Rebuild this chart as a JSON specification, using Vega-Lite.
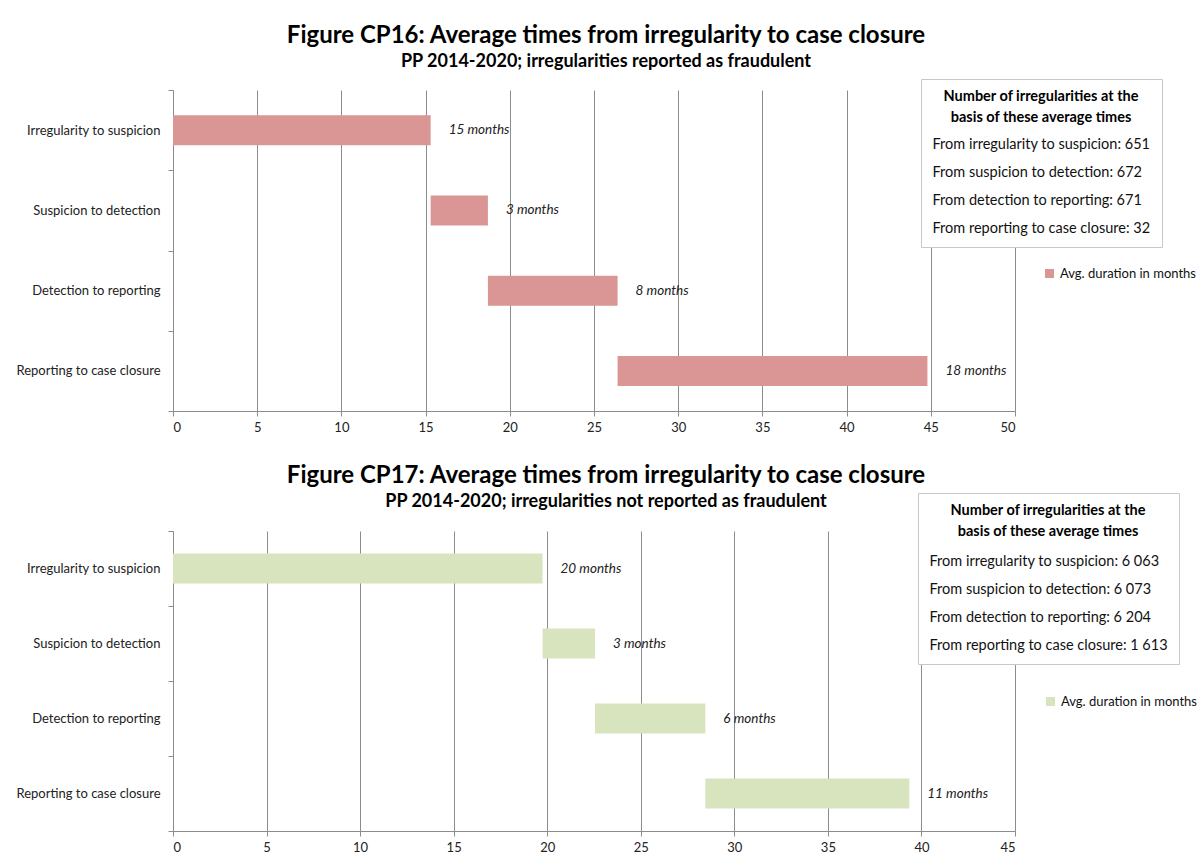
{
  "$schema": "https://vega.github.io/schema/vega-lite/v6.json",
  "padding": {"left": 5, "top": 23, "right": 5, "bottom": 0},
  "background": "white",
  "config": {
    "font": "Lato",
    "view": {"stroke": null},
    "axis": {"labelFont": "Lato", "labelFontSize": 13, "labelColor": "#222", "domainColor": "#8c8c8c", "tickColor": "#8c8c8c", "gridColor": "#8c8c8c", "gridOpacity": 1},
    "title": {"font": "Lato", "fontSize": 24, "fontWeight": "bold", "color": "black", "subtitleFont": "Lato", "subtitleFontSize": 18, "subtitleFontWeight": "bold", "subtitleColor": "black", "subtitlePadding": 5, "anchor": "middle", "dx": 12},
    "legend": {"labelFont": "Lato", "titleFont": "Lato", "labelColor": "#111", "titleColor": "black"},
    "concat": {"spacing": 30}
  },
  "resolve": {"scale": {"color": "independent", "shape": "independent", "x": "independent", "y": "independent"}},
  "vconcat": [
    {
      "title": {"text": "Figure CP16: Average times from  irregularity to case closure", "subtitle": "PP 2014-2020; irregularities reported as fraudulent", "offset": 8},
      "width": 842,
      "height": 321,
      "data": {"values": [
        {"stage": "Irregularity to suspicion", "start": 0, "end": 15.3, "label": "15 months", "count": "From irregularity to suspicion: 651"},
        {"stage": "Suspicion to detection", "start": 15.3, "end": 18.7, "label": "3 months", "count": "From suspicion to detection: 672"},
        {"stage": "Detection to reporting", "start": 18.7, "end": 26.4, "label": "8 months", "count": "From detection to reporting: 671"},
        {"stage": "Reporting to case closure", "start": 26.4, "end": 44.8, "label": "18 months", "count": "From reporting to case closure: 32"}
      ]},
      "encoding": {
        "y": {"field": "stage", "type": "nominal", "sort": null, "title": null, "scale": {"paddingInner": 0, "paddingOuter": 0}, "axis": {"tickBand": "extent", "tickSize": 5, "labelPadding": 8, "minExtent": 168, "maxExtent": 168, "grid": false}}
      },
      "layer": [
        {
          "mark": {"type": "bar", "size": 30},
          "encoding": {
            "x": {"field": "start", "type": "quantitative", "title": null, "scale": {"domain": [0, 50], "nice": false}, "axis": {"values": [0, 5, 10, 15, 20, 25, 30, 35, 40, 45, 50], "grid": true, "tickSize": 5, "labelPadding": 5}},
            "x2": {"field": "end"},
            "color": {"datum": "Avg. duration in months", "scale": {"range": ["#D99694"]}, "legend": {"orient": "none", "legendX": 870, "legendY": 177, "title": null, "symbolType": "square", "symbolSize": 81, "symbolStrokeWidth": 0, "labelFontSize": 13, "padding": 0, "labelOffset": 4}}
          }
        },
        {
          "mark": {"type": "text", "align": "left", "dx": 18, "fontStyle": "italic", "fontSize": 13.5, "color": "#222"},
          "encoding": {"x": {"field": "end", "type": "quantitative"}, "text": {"field": "label"}}
        },
        {
          "mark": {"type": "point", "opacity": 0, "size": 1},
          "encoding": {
            "x": {"field": "end", "type": "quantitative"},
            "shape": {"field": "count", "type": "nominal", "sort": null, "legend": {"orient": "none", "legendX": 748, "legendY": -11, "title": ["Number of irregularities at the", "basis of these average times"], "titleFontSize": 14.5, "titleFontWeight": "bold", "titleAnchor": "middle", "titleAlign": "center", "titleLineHeight": 21, "titlePadding": 12, "titleLimit": 400, "labelFontSize": 14.5, "symbolSize": 1, "symbolOpacity": 0, "symbolStrokeWidth": 0, "labelOffset": -14, "rowPadding": 13, "padding": 11, "strokeColor": "#c8c8c8", "fillColor": "white", "labelLimit": 400}}
          }
        }
      ]
    },
    {
      "title": {"text": "Figure CP17: Average times from  irregularity to case closure", "subtitle": "PP 2014-2020; irregularities not reported as fraudulent", "offset": -18.5},
      "width": 842,
      "height": 300,
      "data": {"values": [
        {"stage": "Irregularity to suspicion", "start": 0, "end": 19.75, "label": "20 months", "count": "From irregularity to suspicion: 6 063"},
        {"stage": "Suspicion to detection", "start": 19.75, "end": 22.55, "label": "3 months", "count": "From suspicion to detection: 6 073"},
        {"stage": "Detection to reporting", "start": 22.55, "end": 28.45, "label": "6 months", "count": "From detection to reporting: 6 204"},
        {"stage": "Reporting to case closure", "start": 28.45, "end": 39.35, "label": "11 months", "count": "From reporting to case closure: 1 613"}
      ]},
      "encoding": {
        "y": {"field": "stage", "type": "nominal", "sort": null, "title": null, "scale": {"paddingInner": 0, "paddingOuter": 0}, "axis": {"tickBand": "extent", "tickSize": 5, "labelPadding": 8, "minExtent": 168, "maxExtent": 168, "grid": false}}
      },
      "layer": [
        {
          "mark": {"type": "bar", "size": 30},
          "encoding": {
            "x": {"field": "start", "type": "quantitative", "title": null, "scale": {"domain": [0, 45], "nice": false}, "axis": {"values": [0, 5, 10, 15, 20, 25, 30, 35, 40, 45], "grid": true, "tickSize": 5, "labelPadding": 5}},
            "x2": {"field": "end"},
            "color": {"datum": "Avg. duration in months", "scale": {"range": ["#D7E4BD"]}, "legend": {"orient": "none", "legendX": 871, "legendY": 164, "title": null, "symbolType": "square", "symbolSize": 81, "symbolStrokeWidth": 0, "labelFontSize": 13, "padding": 0, "labelOffset": 4}}
          }
        },
        {
          "mark": {"type": "text", "align": "left", "dx": 18, "fontStyle": "italic", "fontSize": 13.5, "color": "#222"},
          "encoding": {"x": {"field": "end", "type": "quantitative"}, "text": {"field": "label"}}
        },
        {
          "mark": {"type": "point", "opacity": 0, "size": 1},
          "encoding": {
            "x": {"field": "end", "type": "quantitative"},
            "shape": {"field": "count", "type": "nominal", "sort": null, "legend": {"orient": "none", "legendX": 745, "legendY": -38, "title": ["Number of irregularities at the", "basis of these average times"], "titleFontSize": 14.5, "titleFontWeight": "bold", "titleAnchor": "middle", "titleAlign": "center", "titleLineHeight": 21, "titlePadding": 15, "titleLimit": 400, "labelFontSize": 14.5, "symbolSize": 1, "symbolOpacity": 0, "symbolStrokeWidth": 0, "labelOffset": -14, "rowPadding": 13, "padding": 11, "strokeColor": "#c8c8c8", "fillColor": "white", "labelLimit": 400}}
          }
        }
      ]
    }
  ]
}
